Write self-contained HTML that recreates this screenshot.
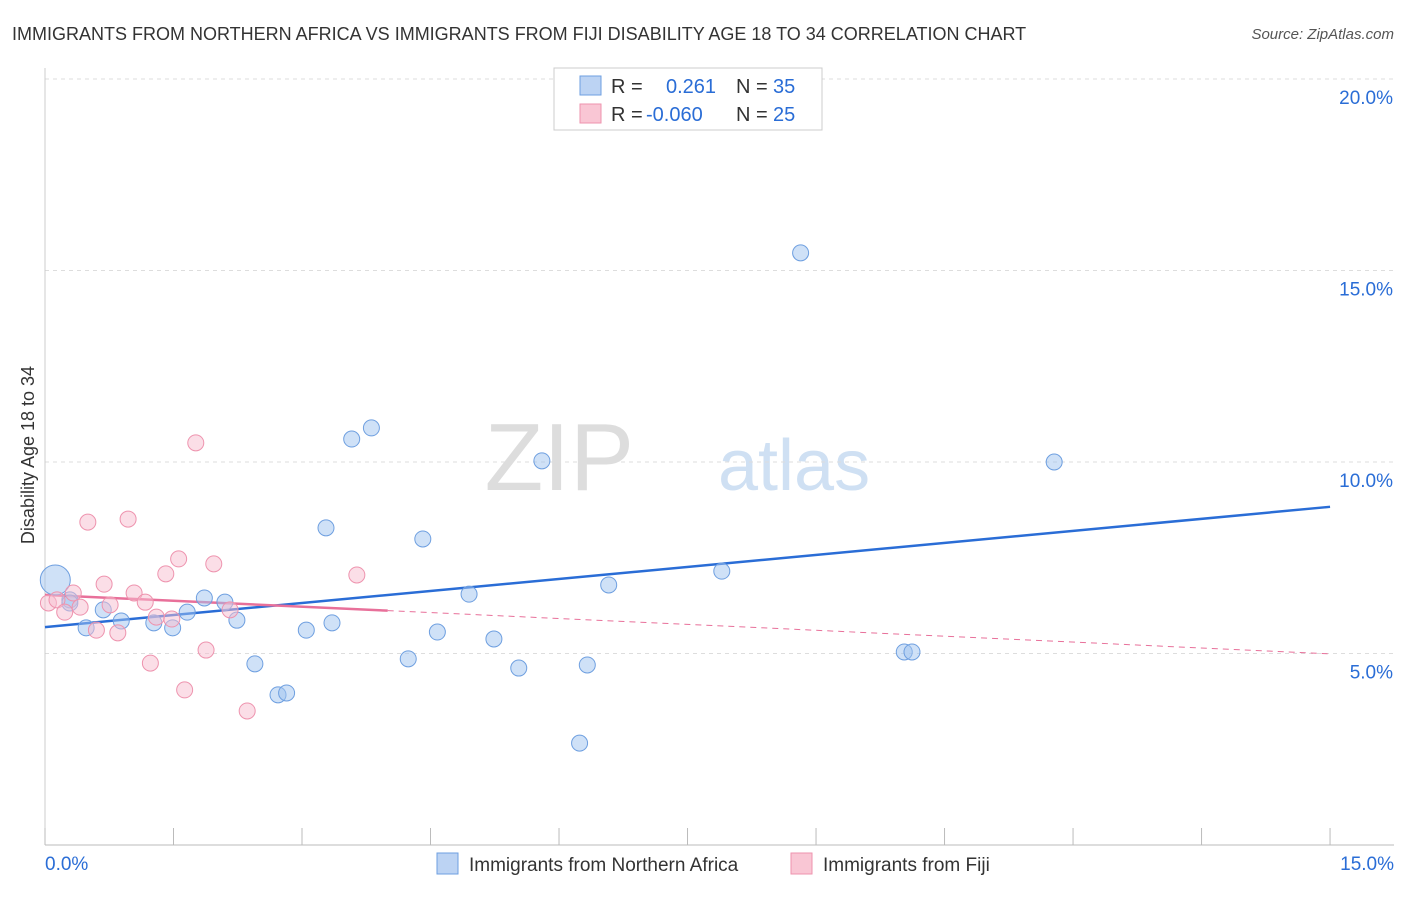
<!DOCTYPE html>
<html><head><meta charset="utf-8">
<style>
body{margin:0;background:#fff;font-family:"Liberation Sans",sans-serif;}
svg text{font-family:"Liberation Sans",sans-serif;}
</style></head>
<body>
<svg width="1406" height="892" xmlns="http://www.w3.org/2000/svg">
<text x="12" y="40" font-size="18" fill="#333">IMMIGRANTS FROM NORTHERN AFRICA VS IMMIGRANTS FROM FIJI DISABILITY AGE 18 TO 34 CORRELATION CHART</text>
<text x="1394" y="39" font-size="15" fill="#555" font-style="italic" text-anchor="end">Source: ZipAtlas.com</text>
<text x="634" y="490" font-size="96" fill="#ddd" font-family="Liberation Serif" text-anchor="end">ZIP</text>
<text x="718" y="490" font-size="72" fill="#cfe0f3">atlas</text>
<g id="grid"></g>
<g id="axes"></g>
<g id="lines"></g>
<g id="pts"></g>
<text transform="translate(34,455) rotate(-90)" font-size="18" fill="#333" text-anchor="middle">Disability Age 18 to 34</text>
<g>
<rect x="554" y="68" width="268" height="62" fill="#fff" stroke="#ccc"/>
<rect x="580" y="76" width="21" height="19" fill="#bcd3f3" stroke="#6e9fe0"/>
<rect x="580" y="104" width="21" height="19" fill="#f9c6d4" stroke="#ee93ae"/>
<text x="611" y="93" font-size="20" fill="#333">R = </text><text x="666" y="93" font-size="20" fill="#2a6dd6">0.261</text>
<text x="736" y="93" font-size="20" fill="#333">N = </text><text x="773" y="93" font-size="20" fill="#2a6dd6">35</text>
<text x="611" y="121" font-size="20" fill="#333">R = </text><text x="646" y="121" font-size="20" fill="#2a6dd6">-0.060</text>
<text x="736" y="121" font-size="20" fill="#333">N = </text><text x="773" y="121" font-size="20" fill="#2a6dd6">25</text>
</g>
<g>
<rect x="437" y="853" width="21" height="21" fill="#bcd3f3" stroke="#6e9fe0"/>
<text x="469" y="871" font-size="19" fill="#333">Immigrants from Northern Africa</text>
<rect x="791" y="853" width="21" height="21" fill="#f9c6d4" stroke="#ee93ae"/>
<text x="823" y="871" font-size="19" fill="#333">Immigrants from Fiji</text>
</g>
</svg>
<script>
const blueX=[0.12,0.29,0.48,0.68,0.89,1.27,1.49,1.66,1.86,2.10,2.24,2.45,2.72,2.82,3.05,3.35,3.28,3.58,3.81,4.24,4.41,4.58,4.95,5.24,5.53,5.80,6.24,6.33,6.58,7.90,8.82,10.03,10.12,11.78,0.29];
const blueY=[6.92,6.40,5.67,6.14,5.85,5.80,5.67,6.08,6.45,6.34,5.87,4.73,3.92,3.97,5.61,5.80,8.28,10.60,10.89,4.86,7.99,5.56,6.55,5.38,4.62,10.03,2.66,4.70,6.79,7.15,15.46,5.04,5.04,10.0,6.32];
const pinkX=[0.04,0.14,0.23,0.33,0.41,0.50,0.60,0.69,0.76,0.85,0.97,1.04,1.17,1.23,1.30,1.41,1.48,1.56,1.63,1.76,1.88,1.97,2.16,2.36,3.64];
const pinkY=[6.32,6.40,6.08,6.58,6.21,8.43,5.61,6.81,6.27,5.54,8.51,6.58,6.34,4.75,5.95,7.08,5.90,7.47,4.05,10.50,5.09,7.34,6.14,3.50,7.05];
const blueLine=[5.69,8.83];
const pinkLine=[6.53,4.99];
const yTicks=[5,10,15,20];
const xTickLabels=["0.0%","15.0%"];
const NS="http://www.w3.org/2000/svg";
const X=v=>45+v*85.67, Y=v=>845-v*38.3;
function mk(tag,attrs,parent){const e=document.createElementNS(NS,tag);for(const k in attrs)e.setAttribute(k,attrs[k]);document.getElementById(parent).appendChild(e);return e;}
yTicks.forEach(t=>{
  const l=mk('line',{x1:45,x2:1394,y1:Y(t),y2:Y(t),stroke:'#ddd','stroke-dasharray':'4,4'},'grid');
  
  
  const tx=mk('text',{x:1393,y:Y(t)+25,'font-size':19,fill:'#2a6dd6','text-anchor':'end'},'grid');
  tx.textContent=t.toFixed(1)+'%';
  
  
});
const ax=mk('line',{x1:45,x2:1394,y1:845,y2:845,stroke:'#bbb'},'axes');


const ay=mk('line',{x1:45,x2:45,y1:68,y2:845,stroke:'#ccc'},'axes');


for(let i=0;i<=10;i++){
  const t=mk('line',{x1:X(i*1.5),x2:X(i*1.5),y1:828,y2:845,stroke:'#bbb'},'axes');
  
  
}
[[0,'start'],[15,'end']].forEach((p,i)=>{
  const tx=mk('text',{x:i?1394:45,y:870,'font-size':19,fill:'#2a6dd6','text-anchor':p[1]},'axes');
  tx.textContent=xTickLabels[i];
  
  
});
blueX.forEach((x,i)=>{
  const c=mk('circle',{cx:X(x),cy:Y(blueY[i]),r:i===0?15:8,fill:'rgba(160,195,240,0.5)',stroke:'#6e9fe0','stroke-width':1},'pts');
  
  
});
pinkX.forEach((x,i)=>{
  const c=mk('circle',{cx:X(x),cy:Y(pinkY[i]),r:8,fill:'rgba(248,190,208,0.5)',stroke:'#ee93ae','stroke-width':1},'pts');
  
  
});
const bl=mk('line',{x1:X(0),y1:Y(blueLine[0]),x2:X(15),y2:Y(blueLine[1]),stroke:'#2a6dd6','stroke-width':2.5},'lines');


const pAt=x=>pinkLine[0]+(pinkLine[1]-pinkLine[0])*x/15;
const pl=mk('line',{x1:X(0),y1:Y(pAt(0)),x2:X(4),y2:Y(pAt(4)),stroke:'#e8709a','stroke-width':2.5},'lines');


const pd=mk('line',{x1:X(4),y1:Y(pAt(4)),x2:X(15),y2:Y(pAt(15)),stroke:'#e8709a','stroke-width':1,'stroke-dasharray':'6,5'},'lines');


</script>
</body></html>
